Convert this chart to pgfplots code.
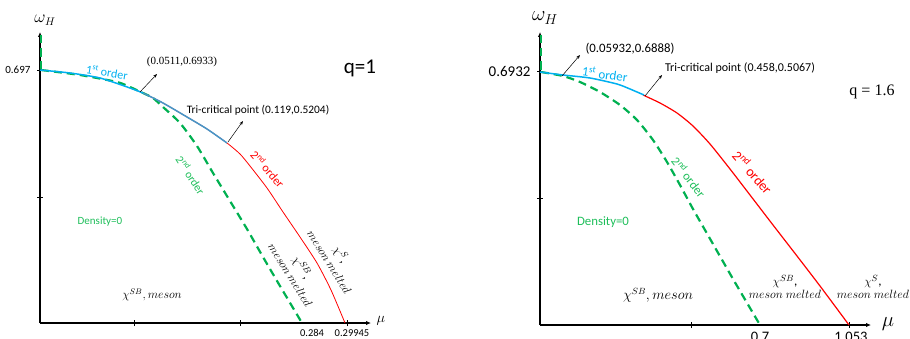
\documentclass[border=0pt]{standalone}
\usepackage{pgfplots}
\pgfplotsset{compat=1.18}
\usetikzlibrary{arrows.meta}
\usepackage{fontspec}
\setmainfont{Carlito}
\newfontfamily\seriffont{Liberation Serif}
\definecolor{skyb}{RGB}{0,176,240}
\definecolor{steelb}{RGB}{70,150,200}
\definecolor{ogreen}{RGB}{0,176,80}
\definecolor{tgreen}{RGB}{30,190,90}
\newcommand\fs[1]{\fontsize{#1}{#1}\selectfont}
\pgfplotsset{phase/.style={scale only axis, axis lines=left, clip=false,
  xmin=0, xmax=331, width=331pt, ymin=0,
  axis line style={line width=1.1pt, -{Latex[length=5pt,width=4.5pt]}},
  xticklabels={}, yticklabels={}, tick align=center, major tick length=6pt,
  tick style={black, line width=0.9pt}, anchor=south west},
  gdash/.style={ogreen, line width=2.2pt, dash pattern=on 8pt off 5pt, smooth, tension=0.4}}
\tikzset{ann/.style={-{Stealth[length=4pt]}, line width=0.5pt, black}}
\begin{document}
\begin{tikzpicture}
\useasboundingbox (0,0) rectangle (910pt,338pt);
% ---------------- left panel q=1 ----------------
\begin{axis}[phase, at={(40pt,15pt)}, ymax=291, height=291pt,
  xtick={94,200,307}, ytick={126,253}]
\addplot[red, line width=0.8pt, smooth, tension=0.4] coordinates {
 (90,235) (103,230) (123,220) (147,206) (167,194) (187,180) (200,169) (210,157)
 (227,135) (243,111) (260,86) (277,60) (291,33) (305,0)};
\addplot[gdash] coordinates {(1,288) (1,253)};
\addplot[gdash] coordinates {
 (1,253) (40,248) (77,241) (90,236) (103,230) (113,225) (123,216) (140,200)
 (157,177) (173,150) (190,122) (207,94) (223,66) (240,37) (262,0)};
\addplot[skyb, line width=1.5pt, smooth, tension=0.4] coordinates {
 (0,253) (30,250) (60,245) (90,235) (103,230)};
\addplot[steelb, line width=1.5pt, smooth, tension=0.4] coordinates {
 (103,230) (123,220) (147,206) (167,194) (187,180)};
\node[font=\fs{16}] at (axis cs:5,303) {$\omega_H$};
\node[font=\fs{11}, anchor=east] at (axis cs:-6,253) {0.697};
\node[font=\fs{10.5}] at (axis cs:272,-10) {0.284};
\node[font=\fs{10.5}] at (axis cs:312,-10) {0.29945};
\node[font=\fs{15}, anchor=west] at (axis cs:333,2) {$\mu$};
\node[font=\fs{12}, text=skyb, rotate=-9] at (axis cs:67,251) {1\textsuperscript{st} order};
\node[font=\fs{11}\seriffont] at (axis cs:142,261) {(0.0511,0.6933)};
\draw[ann] (axis cs:100,231) -- (axis cs:117,249);
\node[font=\fs{11.4}] at (axis cs:218,213) {Tri-critical point (0.119,0.5204)};
\draw[ann] (axis cs:188,181) -- (axis cs:203,202);
\node[font=\fs{21}] at (axis cs:320,255) {q=1};
\node[font=\fs{11.5}, text=tgreen, rotate=-57] at (axis cs:151,148) {2\textsuperscript{nd} order};
\node[font=\fs{12}, text=red, rotate=-49] at (axis cs:228,154) {2\textsuperscript{nd} order};
\node[font=\fs{11}, text=tgreen] at (axis cs:60,101) {Density=0};
\node[font=\fs{12}] at (axis cs:112,28) {$\chi^{SB},meson$};
\node[font=\fs{12.5}, rotate=-58, align=center, inner sep=0pt] at (axis cs:257,52) {$\chi^{SB}$,\\[1pt] $meson\ melted$};
\node[font=\fs{12.5}, rotate=-58, align=center, inner sep=0pt] at (axis cs:296,65) {$\chi^{S}$,\\[1pt] $meson\ melted$};
\end{axis}
% ---------------- right panel q=1.6 ----------------
\begin{axis}[phase, at={(540pt,13pt)}, ymax=293, height=293pt,
  xtick={151,309}, ytick={127,254}]
\addplot[red, line width=1.2pt, smooth, tension=0.4] coordinates {
 (103,230) (120,222) (137,212) (153,199) (170,181) (190,156) (210,130) (233,100)
 (257,69) (280,39) (309,0)};
\addplot[gdash] coordinates {(1,290) (1,253)};
\addplot[gdash] coordinates {
 (1,253) (23,249) (40,243) (60,233) (80,220) (97,205) (113,185) (127,163)
 (140,140) (153,116) (173,81) (193,46) (210,17) (220,0)};
\addplot[skyb, line width=1.5pt, smooth, tension=0.4] coordinates {
 (0,253) (23,250) (50,247) (77,241) (90,236) (104,230)};
\node[font=\fs{22}] at (axis cs:5,307) {$\omega_H$};
\node[font=\fs{15}, anchor=east] at (axis cs:-6,254) {0.6932};
\node[font=\fs{14.5}] at (axis cs:220,-12) {0.7};
\node[font=\fs{14.5}] at (axis cs:311,-12) {1.053};
\node[font=\fs{22}] at (axis cs:348,1) {$\mu$};
\node[font=\fs{12.8}] at (axis cs:90,276) {(0.05932,0.6888)};
\draw[ann] (axis cs:22,249) -- (axis cs:40,270);
\node[font=\fs{13}, text=skyb, rotate=-8] at (axis cs:65,251) {1\textsuperscript{st} order};
\node[font=\fs{12}] at (axis cs:200,257) {Tri-critical point (0.458,0.5067)};
\draw[ann] (axis cs:105,229) -- (axis cs:122,250);
\node[font=\fs{16}\seriffont] at (axis cs:332,233) {q = 1.6};
\node[font=\fs{12.5}, text=tgreen, rotate=-52] at (axis cs:149,148) {2\textsuperscript{nd} order};
\node[font=\fs{14}, text=red, rotate=-49] at (axis cs:213,153) {2\textsuperscript{nd} order};
\node[font=\fs{12.8}, text=tgreen] at (axis cs:63,103) {Density=0};
\node[font=\fs{13.5}] at (axis cs:118,30) {$\chi^{SB},meson$};
\node[font=\fs{13}, align=center, inner sep=0pt] at (axis cs:245,38) {$\chi^{SB}$,\\[0pt] $meson\ melted$};
\node[font=\fs{13}, align=center, inner sep=0pt] at (axis cs:333,38) {$\chi^{S}$,\\[0pt] $meson\ melted$};
\end{axis}
\end{tikzpicture}
\end{document}
